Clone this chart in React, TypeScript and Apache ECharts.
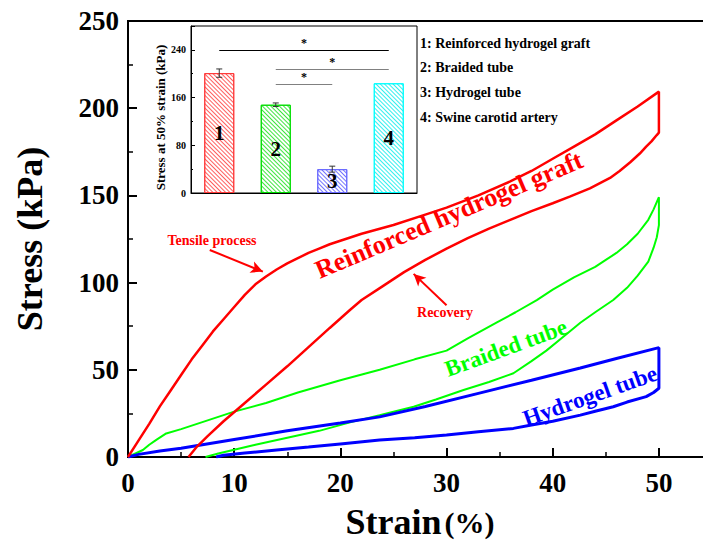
import React, { useEffect, useRef } from 'react';
import * as echarts from 'echarts';

// ---- Main chart data (Strain %, Stress kPa) ----
const redLoadStrain = [0, 1, 2, 3, 4, 5, 6, 7, 8, 9, 10, 11, 12, 13, 14, 15, 16, 17, 18, 19, 20, 22, 25, 28, 30, 33, 36, 38, 40, 42, 44, 46, 48, 50];
const redLoadStress = [0, 9.5, 19, 29, 38, 47, 56, 64, 72, 79, 86, 93, 99, 103.5, 107.5, 111, 114, 117, 119.5, 122, 124, 128, 133, 139, 143, 150, 158, 164, 171, 178, 185, 193, 201, 209.5];
const redUnloadStrain = [50, 49.8, 49.3, 48.8, 48.2, 47.3, 46.3, 45.4, 43.5, 41.6, 40, 38, 36, 34, 32, 30, 28, 26, 24, 22, 20.9, 19, 17, 15, 13, 11, 9, 7.5, 6.5, 5.7];
const redUnloadStress = [186, 184.6, 181, 178, 174, 169, 164, 160, 154, 149.3, 145.5, 141, 136, 131, 125.5, 119.5, 113, 106, 98, 90, 84.3, 74, 63, 52, 41.5, 31, 20.5, 12, 6, 0];

const greenLoadStrain = [0, 0.7, 1.4, 2, 2.7, 3.6, 5, 7, 10, 13, 16, 20, 23.7, 27, 30, 32, 34.7, 36.5, 38.5, 40, 42, 44, 45, 46, 47, 48, 49, 49.5, 50];
const greenLoadStress = [0, 2, 4, 7, 10, 13.5, 16, 20, 26, 31, 37, 44, 50, 56, 61, 68, 77, 83, 90, 96, 103, 109, 113, 117, 122, 128, 136, 142, 149];
const greenUnloadStrain = [50, 49.8, 49.5, 49, 48, 47, 45.7, 44, 42.6, 41, 39.4, 38, 36.3, 34, 31.6, 29, 26.9, 25, 23.7, 21, 18, 15, 12, 10, 8.5, 7.3];
const greenUnloadStress = [133, 126, 120, 112, 104, 97, 90, 83, 77, 69, 61, 55, 48, 43, 38.4, 33, 28.8, 26, 24, 20, 15, 11, 7, 4.2, 2, 0];

const blueLoadStrain = [0, 1, 3, 5, 10, 15, 20, 23.7, 28, 33, 38, 42.6, 46, 50];
const blueLoadStress = [0, 1.5, 3.5, 5, 10, 15, 19.5, 23, 29, 36.5, 44, 51, 56.5, 62.7];
const blueUnloadStrain = [50, 49.5, 48.8, 47, 45.7, 44, 42.6, 40, 38, 36.3, 33, 30, 27, 23.7, 20, 17, 14, 11, 9, 8.3];
const blueUnloadStress = [39.4, 37, 34.6, 31.5, 28.8, 26.2, 24, 20.5, 18.3, 16.4, 14.5, 12.6, 11, 9.7, 7.5, 5.7, 4, 2.3, 1, 0];

// Annotation arrows [fromStrain, fromStress, toStrain, toStress]
const tensileArrow = [7.7, 118.7, 12.7, 106.3];
const recoveryArrow = [30, 87, 26.9, 105];

// ---- Inset data ----
const insetCats = ['1', '2', '3', '4'];
const insetValues = [201, 148, 40, 184];
const insetErrors = [7, 3, 5, 0];
const insetNames = ['1: Reinforced hydrogel graft', '2: Braided tube', '3: Hydrogel tube', '4: Swine carotid artery'];
// significance: [fromIndex, toIndex, level]
const sigFrom = [0, 1, 1];
const sigTo = [3, 3, 2];
const sigLevel = [239, 208, 182];

const FONT = 'Liberation Serif';
const barBorder = ['#ff3a3a', '#00dd00', '#6a6aff', '#00ffff'];
const barHatch = ['rgba(255,40,40,0.75)', 'rgba(0,220,0,0.75)', 'rgba(70,70,255,0.75)', 'rgba(0,235,235,0.8)'];
const sigColors = ['#000000', '#808080', '#808080'];

const pairs = (xs: number[], ys: number[]) => xs.map((x, i) => [x, ys[i]]);

export default function App() {
  const ref = useRef<HTMLDivElement>(null);
  useEffect(() => {
    document.body.style.margin = '0';
    const chart = echarts.init(ref.current!, null, { renderer: 'svg' });
    const deg = Math.PI / 180;
    const option: any = {
      animation: false,
      backgroundColor: '#ffffff',
      textStyle: { fontFamily: FONT },
      grid: [
        { left: 128, top: 21, width: 584, height: 436, show: true, borderColor: '#000', borderWidth: 2, backgroundColor: 'transparent', containLabel: false, outerBoundsMode: 'none' },
        { left: 191, top: 26, width: 226, height: 167, show: true, borderColor: '#000', borderWidth: 1, backgroundColor: '#ffffff', containLabel: false, outerBoundsMode: 'none' },
      ],
      xAxis: [
        {
          type: 'value', gridIndex: 0, min: 0, max: 55, interval: 10,
          axisLine: { show: true, lineStyle: { color: '#000', width: 2 } },
          axisTick: { show: true, inside: true, length: 9, lineStyle: { color: '#000', width: 2 } },
          minorTick: { show: true, splitNumber: 2, length: 5, lineStyle: { color: '#000', width: 1.5 } },
          splitLine: { show: false },
          axisLabel: { fontSize: 27, fontWeight: 'bold', color: '#000', fontFamily: FONT, margin: 12, showMaxLabel: false },
          name: '{a|Strain} {b|(%)}', nameLocation: 'middle', nameGap: 47,
          nameTextStyle: {
            rich: {
              a: { fontSize: 36, fontWeight: 'bold', color: '#000', fontFamily: FONT },
              b: { fontSize: 30, fontWeight: 'bold', color: '#000', fontFamily: FONT },
            },
          },
        },
        {
          type: 'category', gridIndex: 1, data: insetCats,
          axisLine: { show: true, lineStyle: { color: '#000', width: 1 } },
          axisTick: { show: false }, axisLabel: { show: false }, splitLine: { show: false },
        },
      ],
      yAxis: [
        {
          type: 'value', gridIndex: 0, min: 0, max: 250, interval: 50,
          axisLine: { show: true, lineStyle: { color: '#000', width: 2 } },
          axisTick: { show: true, inside: true, length: 9, lineStyle: { color: '#000', width: 2 } },
          minorTick: { show: true, splitNumber: 2, length: 5, lineStyle: { color: '#000', width: 1.5 } },
          splitLine: { show: false },
          axisLabel: { fontSize: 27, fontWeight: 'bold', color: '#000', fontFamily: FONT, margin: 9 },
          name: 'Stress (kPa)', nameLocation: 'middle', nameGap: 80,
          nameTextStyle: { fontSize: 36, fontWeight: 'bold', color: '#000', fontFamily: FONT },
        },
        {
          type: 'value', gridIndex: 1, min: 0, max: 280, interval: 80,
          axisLine: { show: true, lineStyle: { color: '#000', width: 1 } },
          axisTick: { show: true, inside: true, length: 4, lineStyle: { color: '#000', width: 1 } },
          minorTick: { show: true, splitNumber: 2, length: 2, lineStyle: { color: '#000', width: 1 } },
          splitLine: { show: false },
          axisLabel: { fontSize: 10, fontWeight: 'bold', color: '#000', fontFamily: FONT, margin: 5, showMaxLabel: false },
          name: 'Stress at 50% strain (kPa)', nameLocation: 'middle', nameGap: 22,
          nameTextStyle: { fontSize: 13, fontWeight: 'bold', color: '#000', fontFamily: FONT, padding: [0, 16, 0, 0] },
        },
      ],
      series: [
        {
          type: 'line', xAxisIndex: 0, yAxisIndex: 0, symbol: 'none', z: 3,
          lineStyle: { color: '#ff0000', width: 2.5 },
          data: [...pairs(redLoadStrain, redLoadStress), ...pairs(redUnloadStrain, redUnloadStress)],
          markLine: {
            silent: true, symbol: ['none', 'arrow'], symbolSize: [9, 12],
            lineStyle: { color: '#ff0000', width: 2, type: 'solid' }, label: { show: false },
            data: [
              [{ coord: [tensileArrow[0], tensileArrow[1]] }, { coord: [tensileArrow[2], tensileArrow[3]] }],
              [{ coord: [recoveryArrow[0], recoveryArrow[1]] }, { coord: [recoveryArrow[2], recoveryArrow[3]] }],
            ],
          },
        },
        {
          type: 'line', xAxisIndex: 0, yAxisIndex: 0, symbol: 'none', z: 2,
          lineStyle: { color: '#00ff00', width: 2 },
          data: [...pairs(greenLoadStrain, greenLoadStress), ...pairs(greenUnloadStrain, greenUnloadStress)],
        },
        {
          type: 'line', xAxisIndex: 0, yAxisIndex: 0, symbol: 'none', z: 2,
          lineStyle: { color: '#0000ff', width: 3 },
          data: [...pairs(blueLoadStrain, blueLoadStress), ...pairs(blueUnloadStrain, blueUnloadStress)],
        },
        {
          type: 'bar', xAxisIndex: 1, yAxisIndex: 1, barWidth: 30, z: 5,
          label: {
            show: true, position: 'inside', formatter: '{n|{b}}',
            rich: { n: { fontSize: 21, fontWeight: 'bold', color: '#000000', fontFamily: FONT } },
          },
          data: insetValues.map((v, i) => ({
            value: v,
            itemStyle: {
              color: '#ffffff', borderColor: barBorder[i], borderWidth: 1,
              decal: { symbol: 'rect', symbolSize: 1, dashArrayX: [1, 0], dashArrayY: [1, 1.5], rotation: Math.PI / 4, color: barHatch[i] },
            },
          })),
          markLine: {
            silent: true, symbol: 'none',
            label: { show: true, position: 'middle', formatter: '*', color: '#000000', fontSize: 12, fontWeight: 'bold', fontFamily: FONT, distance: 1 },
            data: sigLevel.map((lv, k) => [
              {
                coord: [sigFrom[k], lv],
                lineStyle: { color: sigColors[k], width: 1, type: 'solid' },
                label: { show: true, position: 'middle', formatter: '*', color: '#000000', fontSize: 12, fontWeight: 'bold', fontFamily: FONT, distance: 1 },
              },
              { coord: [sigTo[k], lv] },
            ]),
          },
        },
        {
          type: 'custom', xAxisIndex: 1, yAxisIndex: 1, z: 6,
          encode: { x: 0, y: 1 },
          data: insetValues.map((v, i) => [i, v, insetErrors[i]]),
          renderItem: (params: any, api: any) => {
            const i = api.value(0), v = api.value(1), e = api.value(2);
            if (!e) return null;
            const t = api.coord([i, v + e]);
            const b = api.coord([i, v - e]);
            const w = 3;
            const st = { stroke: '#333', lineWidth: 1 };
            return {
              type: 'group',
              children: [
                { type: 'line', shape: { x1: t[0], y1: t[1], x2: b[0], y2: b[1] }, style: st },
                { type: 'line', shape: { x1: t[0] - w, y1: t[1], x2: t[0] + w, y2: t[1] }, style: st },
                { type: 'line', shape: { x1: b[0] - w, y1: b[1], x2: b[0] + w, y2: b[1] }, style: st },
              ],
            };
          },
        },
      ],
      graphic: [
        { type: 'text', x: 212, y: 240, z: 100, style: { text: 'Tensile process', fill: '#ff0000', fontSize: 14, fontWeight: 'bold', fontFamily: FONT, align: 'center', verticalAlign: 'middle' } },
        { type: 'text', x: 445, y: 312, z: 100, style: { text: 'Recovery', fill: '#ff0000', fontSize: 14, fontWeight: 'bold', fontFamily: FONT, align: 'center', verticalAlign: 'middle' } },
        { type: 'text', x: 449, y: 215, rotation: 23 * deg, z: 100, style: { text: 'Reinforced hydrogel graft', fill: '#ff0000', fontSize: 26, fontWeight: 'bold', fontFamily: FONT, align: 'center', verticalAlign: 'middle' } },
        { type: 'text', x: 506, y: 348, rotation: 20 * deg, z: 100, style: { text: 'Braided tube', fill: '#00ff00', fontSize: 23, fontWeight: 'bold', fontFamily: FONT, align: 'center', verticalAlign: 'middle' } },
        { type: 'text', x: 590, y: 396, rotation: 19.5 * deg, z: 100, style: { text: 'Hydrogel tube', fill: '#0000ff', fontSize: 23, fontWeight: 'bold', fontFamily: FONT, align: 'center', verticalAlign: 'middle' } },
        ...insetNames.map((t, i) => ({
          type: 'text', x: 420, y: 43 + i * 24.8, z: 100,
          style: { text: t, fill: '#000', fontSize: 14, fontWeight: 'bold', fontFamily: FONT, align: 'left', verticalAlign: 'middle' },
        })),
      ],
    };
    chart.setOption(option);
    return () => chart.dispose();
  }, []);
  return <div ref={ref} style={{ width: 703, height: 548 }} />;
}
